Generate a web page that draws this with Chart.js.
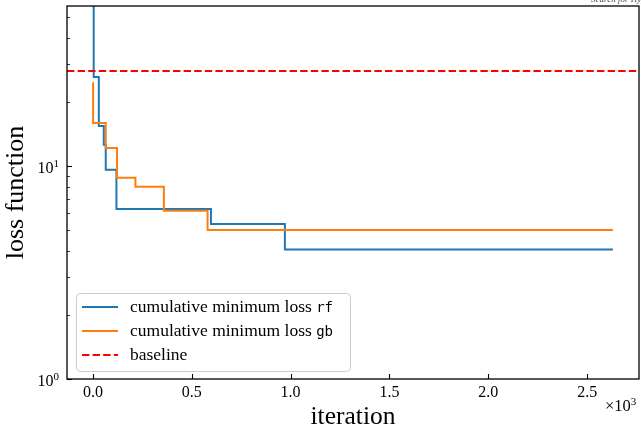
<!DOCTYPE html>
<html><head><meta charset="utf-8">
<script src="https://cdn.jsdelivr.net/npm/chart.js@4"></script>
<style>html,body{margin:0;padding:0;background:#fff;overflow:hidden}#wrap{position:relative;width:641px;height:427px}</style>
</head><body><div id="wrap"><canvas id="c" width="641" height="427"></canvas></div>
<script>
// ---- data ----
const rfIter = [0, 4, 30, 55, 65, 119, 597, 971, 2630];
const rfLoss = [200, 26.2, 15.4, 12.6, 9.6, 6.28, 5.34, 4.06, 4.06];
const gbIter = [0, 1, 65, 122, 215, 359, 580, 2630];
const gbLoss = [24.6, 15.9, 12.15, 8.81, 8.0, 6.16, 5.01, 5.01];
const baselineLoss = 27.9;
const xLimits = [-131, 2762];
const yLimits = [1, 56.4];
const xTickValues = [0, 500, 1000, 1500, 2000, 2500];
const yTickValues = [1, 2, 3, 4, 5, 6, 7, 8, 9, 10, 20, 30, 40, 50];
const yMajorTicks = [1, 10];
const yMajorLabels = [['10', '0'], ['10', '1']];
const legendText = ['cumulative minimum loss ', 'cumulative minimum loss ', 'baseline'];
const legendCode = ['rf', 'gb', ''];
const xOffsetLabel = ['\u00d710', '3'];
const topTitle = 'Search for Hyperparameters';

const SERIF = '"Liberation Serif", "DejaVu Serif", serif';
const MONO = '"DejaVu Sans Mono", "Liberation Mono", monospace';
const BLUE = '#1f77b4', ORANGE = '#ff7f0e', RED = '#ff0000';

const toPts = (xs, ys) => xs.map((x, i) => ({x: x, y: ys[i]}));

const overlay = {
  id: 'overlay',
  afterDraw(chart) {
    const ctx = chart.ctx, a = chart.chartArea;
    const xs = chart.scales.x, ys = chart.scales.y;
    ctx.save();
    // frame
    ctx.strokeStyle = '#000'; ctx.lineWidth = 1.3;
    ctx.strokeRect(a.left, a.top, a.right - a.left, a.bottom - a.top);
    // x ticks inward
    ctx.lineWidth = 1.1;
    xs.ticks.forEach(t => {
      const px = Math.round(xs.getPixelForValue(t.value)) + 0.5;
      ctx.beginPath(); ctx.moveTo(px, a.bottom); ctx.lineTo(px, a.bottom - 5); ctx.stroke();
    });
    // y ticks inward
    ys.ticks.forEach(t => {
      const py = Math.round(ys.getPixelForValue(t.value)) + 0.5;
      const len = yMajorTicks.includes(t.value) ? 5 : 3;
      ctx.lineWidth = yMajorTicks.includes(t.value) ? 1.1 : 0.8;
      ctx.beginPath(); ctx.moveTo(a.left, py); ctx.lineTo(a.left + len, py); ctx.stroke();
    });
    // y major labels 10^n
    ctx.fillStyle = '#000'; ctx.textBaseline = 'alphabetic';
    yMajorTicks.forEach((v, i) => {
      const py = ys.getPixelForValue(v);
      const [base, exp] = yMajorLabels[i];
      ctx.font = '11px ' + SERIF;
      const ew = ctx.measureText(exp).width;
      const right = a.left - 8;
      ctx.textAlign = 'left';
      ctx.fillText(exp, right - ew, py + 1);
      ctx.font = '16px ' + SERIF;
      ctx.textAlign = 'right';
      ctx.fillText(base, right - ew, py + 7);
    });
    // x offset label x10^3
    ctx.font = '16.5px ' + SERIF; ctx.textAlign = 'left';
    ctx.fillText(xOffsetLabel[0], 605, 411);
    const w0 = ctx.measureText(xOffsetLabel[0]).width;
    ctx.font = '11px ' + SERIF;
    ctx.fillText(xOffsetLabel[1], 605 + w0, 405);
    // legend
    const lx = 76, ly = 293, lw = 274, lh = 78;
    ctx.beginPath();
    if (ctx.roundRect) ctx.roundRect(lx + 0.5, ly + 0.5, lw, lh, 4); else ctx.rect(lx + 0.5, ly + 0.5, lw, lh);
    ctx.fillStyle = 'rgba(255,255,255,0.8)'; ctx.fill();
    ctx.strokeStyle = '#cccccc'; ctx.lineWidth = 1; ctx.stroke();
    const rows = [307, 331, 355];
    chart.data.datasets.forEach((ds, i) => {
      const y = rows[i];
      ctx.strokeStyle = ds.borderColor; ctx.lineWidth = 2;
      ctx.setLineDash(ds.borderDash || []);
      ctx.beginPath(); ctx.moveTo(82, y); ctx.lineTo(118, y); ctx.stroke();
      ctx.setLineDash([]);
      ctx.fillStyle = '#000'; ctx.textAlign = 'left'; ctx.textBaseline = 'middle';
      ctx.font = '17.5px ' + SERIF;
      ctx.fillText(legendText[i], 130, y);
      if (legendCode[i]) {
        const tw = ctx.measureText(legendText[i]).width;
        ctx.font = '14px ' + MONO;
        ctx.fillText(legendCode[i], 130 + tw, y + 1);
      }
    });
    // cropped title at top right
    ctx.font = 'italic 9px ' + SERIF; ctx.fillStyle = '#444';
    ctx.textAlign = 'left'; ctx.textBaseline = 'middle';
    ctx.fillText(topTitle, 591, 0);
    ctx.restore();
  }
};

new Chart(document.getElementById('c'), {
  type: 'line',
  data: {
    datasets: [
      {label: legendText[0] + legendCode[0], data: toPts(rfIter, rfLoss), borderColor: BLUE, borderWidth: 2, stepped: 'before', pointRadius: 0, order: 2},
      {label: legendText[1] + legendCode[1], data: toPts(gbIter, gbLoss), borderColor: ORANGE, borderWidth: 2, stepped: 'before', pointRadius: 0, order: 1},
      {label: legendText[2], data: toPts(xLimits, [baselineLoss, baselineLoss]), borderColor: RED, borderWidth: 2, borderDash: [7.4, 3.2], pointRadius: 0, order: 0}
    ]
  },
  options: {
    responsive: false,
    animation: false,
    devicePixelRatio: 1,
    layout: {padding: {left: 0, top: 6, right: 2, bottom: 0}},
    plugins: {legend: {display: false}, tooltip: {enabled: false}},
    scales: {
      x: {
        type: 'linear', min: xLimits[0], max: xLimits[1],
        grid: {display: false, drawTicks: false}, border: {display: false},
        afterBuildTicks: s => { s.ticks = xTickValues.map(v => ({value: v})); },
        afterFit: s => { s.height = 48; },
        ticks: {color: '#000', font: {family: SERIF, size: 16}, padding: 4, maxRotation: 0, autoSkip: false,
                callback: v => (v / 1000).toFixed(1)},
        title: {display: true, text: 'iteration', color: '#000', font: {family: SERIF, size: 25.5, lineHeight: 0.8}, padding: {top: 0, bottom: 0}}
      },
      y: {
        type: 'logarithmic', min: yLimits[0], max: yLimits[1],
        grid: {display: false, drawTicks: false}, border: {display: false},
        afterBuildTicks: s => { s.ticks = yTickValues.map(v => ({value: v, major: yMajorTicks.includes(v)})); },
        afterFit: s => { s.width = 67; },
        ticks: {display: false},
        title: {display: true, text: 'loss function', color: '#000', font: {family: SERIF, size: 26, lineHeight: 0.8}, padding: {top: 6, bottom: 0}}
      }
    }
  },
  plugins: [overlay]
});
</script></body></html>
